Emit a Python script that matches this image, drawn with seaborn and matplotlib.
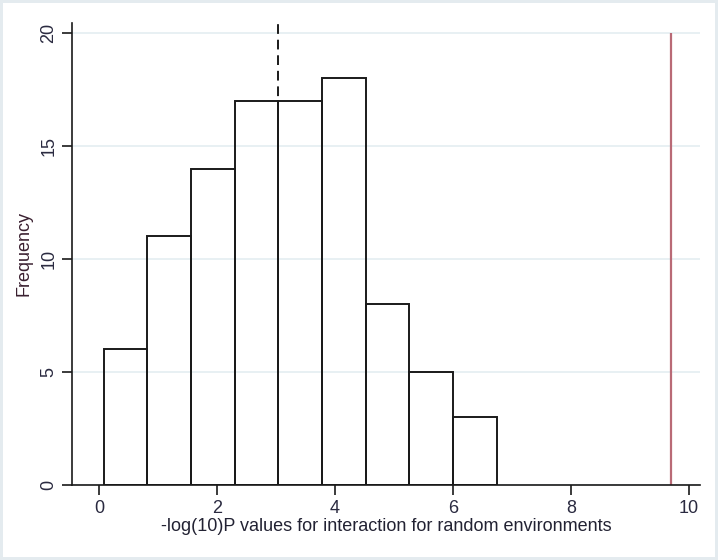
import matplotlib
matplotlib.use("Agg")
import matplotlib.pyplot as plt
import seaborn as sns

# histogram of -log10 P values (counts)
bin_edges = [0.08, 0.82, 1.56, 2.30, 3.04, 3.78, 4.52, 5.26, 6.00, 6.74]
counts = [6, 11, 14, 17, 17, 18, 8, 5, 3]
median_value = 3.04
observed_value = 9.69
x_ticks = [0, 2, 4, 6, 8, 10]
y_ticks = [0, 5, 10, 15, 20]

sns.set_style("white")
plt.rcParams['font.family'] = ['Liberation Sans', 'DejaVu Sans']

fig = plt.figure(figsize=(7.18, 5.6), dpi=100, facecolor='white',
                 edgecolor='#e4ebef', linewidth=4)
ax = fig.add_axes([0.1003, 0.134, 0.8747, 0.825])

centers = [(a + b) / 2 for a, b in zip(bin_edges[:-1], bin_edges[1:])]
sns.histplot(x=centers, weights=counts, bins=bin_edges, ax=ax,
             fill=False, color='#1a1a1a', linewidth=1.4)

ax.set_xlim(-0.46, 10.19)
ax.set_ylim(0, 20.44)
ax.set_xticks(x_ticks)
ax.set_yticks(y_ticks)
ax.yaxis.grid(True, color='#e6eff2', linewidth=1.3)
ax.set_axisbelow(True)

ax.vlines(median_value, 0, 20.44, colors='#1a1a1a', linestyles=(0, (5, 3)),
          linewidth=1.4)
ax.vlines(observed_value, 0, 20, colors='#b96a76', linewidth=1.6)

for s in ['top', 'right']:
    ax.spines[s].set_visible(False)
for s in ['left', 'bottom']:
    ax.spines[s].set_color('#1a1a1a')
    ax.spines[s].set_linewidth(1.2)

ax.tick_params(axis='both', direction='out', length=7, width=1.2,
               color='#1a1a1a', labelsize=13, labelcolor='#2a2a40', left=True,
               bottom=True)
for lab in ax.get_yticklabels():
    lab.set_rotation(90)
    lab.set_va('center')

ax.set_ylabel('Frequency', fontsize=13, color='#3a2030', labelpad=6)
ax.set_xlabel('-log(10)P values for interaction for random environments',
              fontsize=13, color='#222233', labelpad=1)

fig.savefig('out.png', dpi=100, facecolor=fig.get_facecolor(),
            edgecolor=fig.get_edgecolor())
